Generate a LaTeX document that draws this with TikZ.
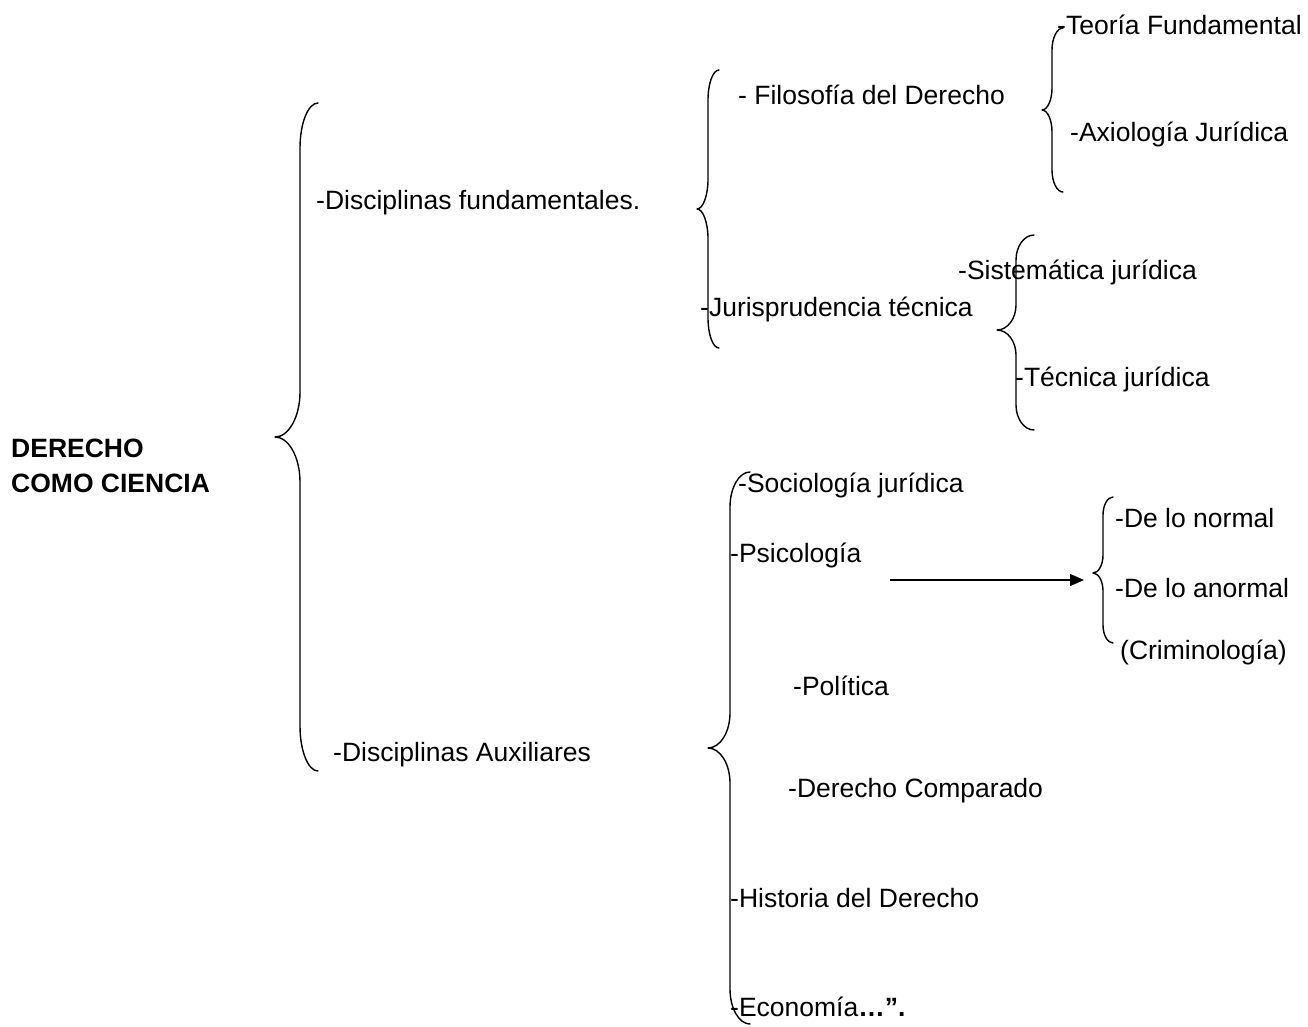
\documentclass[tikz,border=0pt]{standalone}
\usepackage{fontspec}
\setmainfont{Liberation Sans}
\usetikzlibrary{arrows.meta}
\tikzset{
  lbl/.style={anchor=base west, inner sep=0pt, font=\fontsize{26.5}{30}\selectfont},
  bracestyle/.style={line width=1.4pt, line cap=round, line join=round},
  arr/.style={line width=1.4pt, -{Triangle[length=14pt,width=12pt]}}
}
% #1 vertical x, #2 end x, #3 tip x, #4 ytop, #5 ymid, #6 ybot, #7 radius
\newcommand\mybrc[7]{\draw[bracestyle]
  (#2,#4) .. controls ({#1+0.45*(#2-#1)},#4) and (#1,{#4+0.45*#7}) .. (#1,{#4+#7})
  -- (#1,{#5-#7}) .. controls (#1,{#5-0.45*#7}) and ({#3+0.55*(#1-#3)},#5) .. (#3,#5)
  .. controls ({#3+0.55*(#1-#3)},#5) and (#1,{#5+0.45*#7}) .. (#1,{#5+#7})
  -- (#1,{#6-#7}) .. controls (#1,{#6-0.45*#7}) and ({#1+0.45*(#2-#1)},#6) .. (#2,#6);}
\begin{document}
\begin{tikzpicture}[x=1pt,y=-1pt]
\useasboundingbox (0,0) rectangle (1308,1026);
% braces
\mybrc{300}{318}{275}{103}{437}{771}{45}
\mybrc{708}{719}{697}{70}{209}{348}{30}
\mybrc{1052}{1063}{1042}{28}{110}{192}{22}
\mybrc{1016}{1034}{997}{235}{330}{430}{25}
\mybrc{730}{750}{708}{472}{748}{1024}{35}
\mybrc{1103}{1113}{1093}{497}{573}{643}{18}
% texts
\node[lbl, font=\fontsize{26.5}{30}\selectfont\bfseries] (t1) at (11,457.5) {DERECHO};
\node[lbl, font=\fontsize{26.5}{30}\selectfont\bfseries] (t2) at (11,492.5) {COMO CIENCIA};
\node[lbl] (df) at (316,209.5) {-Disciplinas fundamentales.};
\node[lbl] (da) at (333,761.5) {-Disciplinas Auxiliares};
\node[lbl] (fd) at (738,104.5) {- Filosofía del Derecho};
\node[lbl] (jt) at (700,316.5) {-Jurisprudencia técnica};
\node[lbl] (tf) at (1057,34.5) {-Teoría Fundamental};
\node[lbl] (ax) at (1070,141.5) {-Axiología Jurídica};
\node[lbl] (sj) at (958,279.5) {-Sistemática jurídica};
\node[lbl] (tj) at (1015,386.5) {-Técnica jurídica};
\node[lbl] (so) at (738,492.5) {-Sociología jurídica};
\node[lbl] (ps) at (730,562.5) {-Psicología};
\node[lbl] (po) at (793,695.5) {-Política};
\node[lbl] (dc) at (788,797.5) {-Derecho Comparado};
\node[lbl] (hd) at (730,907.5) {-Historia del Derecho};
\node[lbl] (ec) at (730,1016.5) {-Economía\textbf{…”.}};
\node[lbl] (dn) at (1115,527.5) {-De lo normal};
\node[lbl] (dan) at (1115,597.5) {-De lo anormal};
\node[lbl] (cr) at (1120,659.5) {(Criminología)};
% arrow
\coordinate (a1) at (890,580);
\coordinate (a2) at (1084,580);
\draw[arr] (a1) -- (a2);
\end{tikzpicture}
\end{document}
